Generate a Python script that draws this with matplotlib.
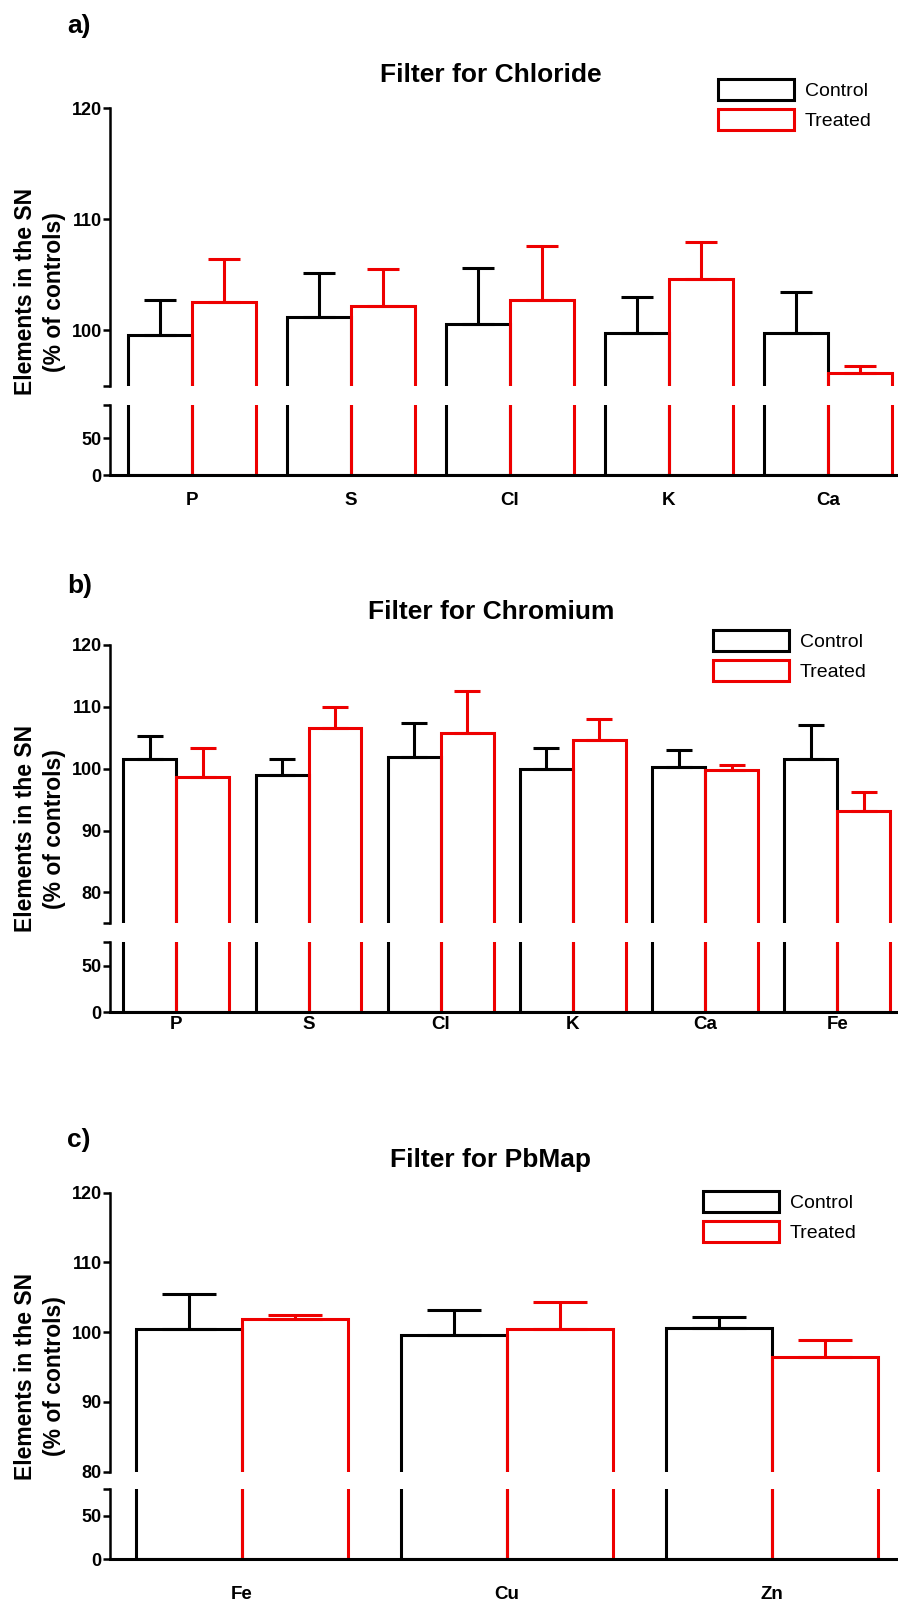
import matplotlib.pyplot as plt
from matplotlib.patches import Patch
import numpy as np

plt.rcParams['font.family'] = ['Liberation Sans', 'DejaVu Sans']

RED = '#ee0000'
W, H = 898, 1602

# a) Filter for Chloride
a_names = ['P', 'S', 'Cl', 'K', 'Ca']
a_control = [99.6, 101.2, 100.6, 99.8, 99.8]
a_control_err = [3.1, 4.0, 5.0, 3.2, 3.7]
a_treated = [102.6, 102.2, 102.7, 104.6, 96.2]
a_treated_err = [3.8, 3.3, 4.9, 3.4, 0.6]

# b) Filter for Chromium
b_names = ['P', 'S', 'Cl', 'K', 'Ca', 'Fe']
b_control = [101.6, 98.9, 101.9, 100.0, 100.3, 101.6]
b_control_err = [3.7, 2.6, 5.5, 3.4, 2.7, 5.4]
b_treated = [98.6, 106.6, 105.7, 104.6, 99.8, 93.2]
b_treated_err = [4.7, 3.4, 6.8, 3.5, 0.8, 3.1]

# c) Filter for PbMap
c_names = ['Fe', 'Cu', 'Zn']
c_control = [100.5, 99.6, 100.6]
c_control_err = [5.0, 3.6, 1.6]
c_treated = [101.9, 100.5, 96.4]
c_treated_err = [0.6, 3.9, 2.5]

# layout in pixels of the 898x1602 canvas
layouts = [
    dict(tag='a)', title='Filter for Chloride', brk=95, top=108.3, brk_px=386, low_px=405, base=475,
         c0=192, pitch=159, yticks=[95, 100, 110, 120], title_y=82, tag_y=33, xpad=12, leg=(718, 79)),
    dict(tag='b)', title='Filter for Chromium', brk=75, top=645, brk_px=923.3, low_px=942.3, base=1012.3,
         c0=176.3, pitch=132.2, yticks=[75, 80, 90, 100, 110, 120], title_y=619, tag_y=593, xpad=3, leg=(713, 630)),
    dict(tag='c)', title='Filter for PbMap', brk=80, top=1192.7, brk_px=1471.7, low_px=1489.3, base=1559.3,
         c0=241.7, pitch=265.3, yticks=[80, 90, 100, 110, 120], title_y=1167, tag_y=1147, xpad=19, leg=(703, 1191)),
]
data = [
    (a_names, a_control, a_control_err, a_treated, a_treated_err),
    (b_names, b_control, b_control_err, b_treated, b_treated_err),
    (c_names, c_control, c_control_err, c_treated, c_treated_err),
]

fig = plt.figure(figsize=(W / 100, H / 100), dpi=100)
LW = 2.2
AX_LW = 1.8


def draw_panel(names, ctrl, ctrl_err, trt, trt_err, lay):
    n = len(names)
    x = np.arange(n)
    xlo = (110 - lay['c0']) / lay['pitch']
    xhi = (W - lay['c0']) / lay['pitch']
    fx, fw = 110 / W, (W - 110) / W
    ax_top = fig.add_axes([fx, 1 - lay['brk_px'] / H, fw, (lay['brk_px'] - lay['top']) / H])
    ax_low = fig.add_axes([fx, 1 - lay['base'] / H, fw, (lay['base'] - lay['low_px']) / H])

    # the lower segment only shows the bar sides, so lift the tops out of view there
    low_ctrl = np.maximum(ctrl, 2 * lay['brk'])
    low_trt = np.maximum(trt, 2 * lay['brk'])
    for ax, c, t, lims in ((ax_top, ctrl, trt, (lay['brk'], 120)),
                           (ax_low, low_ctrl, low_trt, (0, lay['brk']))):
        ax.bar(x - 0.2, c, 0.4, fill=False, edgecolor='black', linewidth=LW)
        ax.bar(x + 0.2, t, 0.4, fill=False, edgecolor=RED, linewidth=LW)
        ax.set_xlim(xlo, xhi)
        ax.set_ylim(*lims)
        ax.spines[['top', 'right']].set_visible(False)
        ax.spines['left'].set_linewidth(AX_LW)
        ax.tick_params(axis='y', length=5, width=AX_LW, pad=1)

    cs = 0.072 * lay['pitch']
    ax_top.errorbar(x - 0.2, ctrl, yerr=[np.zeros(n), ctrl_err], fmt='none', ecolor='black',
                    elinewidth=LW, capsize=cs, capthick=LW)
    ax_top.errorbar(x + 0.2, trt, yerr=[np.zeros(n), trt_err], fmt='none', ecolor=RED,
                    elinewidth=LW, capsize=cs, capthick=LW)

    yt = lay['yticks']
    ax_top.set_yticks(yt, ['' if v == lay['brk'] and v % 10 else str(v) for v in yt],
                      fontweight='bold', fontsize=13)
    ax_top.spines['bottom'].set_visible(False)
    ax_top.set_xticks([])

    ax_low.set_yticks([0, 50, lay['brk']], ['0', '50', ''], fontweight='bold', fontsize=13)
    ax_low.spines['bottom'].set_linewidth(LW)
    ax_low.set_xticks(x, names, fontweight='bold', fontsize=13.5)
    ax_low.tick_params(axis='x', length=0, pad=lay['xpad'])

    handles = [Patch(facecolor='none', edgecolor='black', linewidth=LW, label='Control'),
               Patch(facecolor='none', edgecolor=RED, linewidth=LW, label='Treated')]
    fs = 14 * 100 / 72
    ax_top.legend(handles=handles, loc='upper left',
                  bbox_to_anchor=(lay['leg'][0] / W, 1 - lay['leg'][1] / H),
                  bbox_transform=fig.transFigure, frameon=False, fontsize=14,
                  handlelength=76 / fs, handleheight=25 / fs, labelspacing=8.5 / fs,
                  handletextpad=11 / fs, borderpad=0, borderaxespad=0)

    mid = (lay['top'] + lay['base']) / 2
    fig.text(40 / W, 1 - mid / H, 'Elements in the SN\n(% of controls)', rotation=90,
             ha='center', va='center', fontweight='bold', fontsize=16.5, linespacing=1.3)
    fig.text(491 / W, 1 - lay['title_y'] / H, lay['title'], ha='center', va='baseline',
             fontweight='bold', fontsize=19)
    fig.text(67 / W, 1 - lay['tag_y'] / H, lay['tag'], ha='left', va='baseline',
             fontweight='bold', fontsize=19)


for d, lay in zip(data, layouts):
    draw_panel(*d, lay)

fig.savefig('out.png', dpi=100)
